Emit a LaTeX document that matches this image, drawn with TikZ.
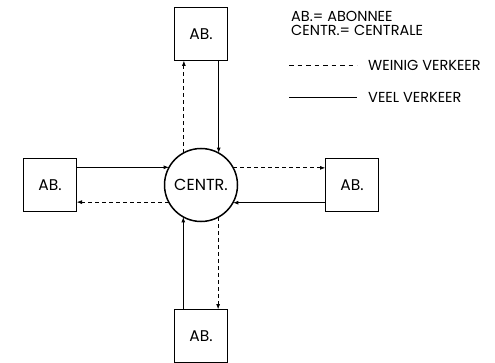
\documentclass[tikz,border=0pt]{standalone}
\usepackage{fontspec}
\setmainfont{Poppins}
\usetikzlibrary{positioning, arrows.meta}

\begin{document}
\begin{tikzpicture}[
  x=1pt, y=1pt,
  node distance=88pt,
  abbox/.style={draw, line width=1.5pt, minimum size=53pt, inner sep=0pt,
                outer sep=0pt, font=\fontsize{15.5}{18}\selectfont},
  centrale/.style={draw, circle, line width=1.5pt, minimum size=73pt, inner sep=0pt,
                   outer sep=0pt, font=\fontsize{16}{18}\selectfont},
  veel/.style={line width=0.9pt, -{Latex[length=5.5pt, width=4pt]}},
  weinig/.style={veel, dash pattern=on 4pt off 3pt},
  lbl/.style={font=\fontsize{14.5}{14}\selectfont, align=left, inner sep=0pt}]
  \useasboundingbox (0,0) rectangle (495,362);
  % centrale en abonnees
  \node[centrale] (centr) at (201,177) {CENTR.};
  \node[abbox, above=of centr] (top) {AB.};
  \node[abbox, left=of centr] (left) {AB.};
  \node[abbox, right=of centr] (right) {AB.};
  \node[abbox, below=of centr] (bot) {AB.};
  % verbindingen
  \draw[veel] (centr.61.8 |- top.south) -- (centr.61.8);
  \draw[weinig] (centr.118.2) -- (centr.118.2 |- top.south);
  \draw[veel] (centr.151.8 -| left.east) -- (centr.151.8);
  \draw[weinig] (centr.208.2) -- (centr.208.2 -| left.east);
  \draw[weinig] (centr.28.2) -- (centr.28.2 -| right.west);
  \draw[veel] (centr.331.8 -| right.west) -- (centr.331.8);
  \draw[veel] (centr.241.8 |- bot.north) -- (centr.241.8);
  \draw[weinig] (centr.298.2) -- (centr.298.2 |- bot.north);
  % legenda
  \node[lbl, anchor=north west] (afk) at (291,351) {AB.= ABONNEE\\CENTR.= CENTRALE};
  \coordinate (w1) at (289,297);
  \coordinate (w2) at (357,297);
  \coordinate (v1) at (289,265);
  \coordinate (v2) at (357,265);
  \draw[line width=0.9pt, dash pattern=on 4.5pt off 4pt] (w1) -- (w2);
  \draw[line width=0.9pt] (v1) -- (v2);
  \node[lbl, right=11pt of w2] (wv) {WEINIG VERKEER};
  \node[lbl, right=11pt of v2] (vv) {VEEL VERKEER};
\end{tikzpicture}
\end{document}
